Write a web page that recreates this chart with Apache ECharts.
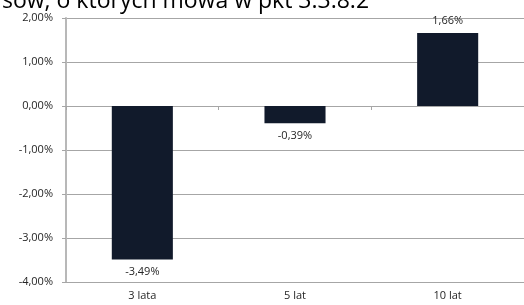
<!DOCTYPE html>
<html>
<head>
<meta charset="utf-8">
<script src="https://cdn.jsdelivr.net/npm/echarts@6/dist/echarts.min.js"></script>
<style>
  html, body { margin: 0; padding: 0; background: #fff; }
  #chart { width: 524px; height: 305px; }
</style>
</head>
<body>
<div id="chart"></div>
<script>
const categories = ['3 lata', '5 lat', '10 lat']
const values = [-3.49, -0.39, 1.66]
const titleText = 'sów, o których mowa w pkt 3.3.8.2'

const fmt = v => v.toFixed(2).replace('.', ',') + '%'

const chart = echarts.init(document.getElementById('chart'))
chart.setOption({
  animation: false,
  textStyle: { fontFamily: 'Open Sans' },
  title: {
    text: titleText,
    left: -3,
    top: -15,
    textStyle: { fontSize: 23, fontWeight: 'normal', color: '#000', fontFamily: 'Open Sans' }
  },
  grid: { left: 66, top: 18, width: 470, height: 264 },
  xAxis: [{
    type: 'category',
    data: categories,
    position: 'bottom',
    axisLine: { onZero: false, lineStyle: { color: '#a6a6a6' } },
    axisTick: { show: false },
    axisLabel: { color: '#262626', fontSize: 11, margin: 8 }
  }, {
    type: 'category',
    data: categories,
    position: 'bottom',
    axisLine: { onZero: true, lineStyle: { color: '#a6a6a6' } },
    axisTick: { show: true, length: 4, lineStyle: { color: '#a6a6a6' } },
    axisLabel: { show: false }
  }],
  yAxis: {
    type: 'value',
    min: -4,
    max: 2,
    interval: 1,
    axisLine: { show: true, lineStyle: { color: '#b8b8b8', width: 2 } },
    axisTick: { show: true, length: 4, lineStyle: { color: '#a6a6a6' } },
    splitLine: { lineStyle: { color: '#a6a6a6' } },
    axisLabel: { color: '#262626', fontSize: 11, margin: 13, formatter: v => fmt(v) }
  },
  series: [{
    type: 'bar',
    data: values,
    barWidth: '40%',
    itemStyle: { color: '#111a2b' },
    label: {
      show: true,
      position: 'outside',
      color: '#262626',
      fontSize: 11,
      distance: 7,
      formatter: p => fmt(p.value)
    }
  }]
})
</script>
</body>
</html>
